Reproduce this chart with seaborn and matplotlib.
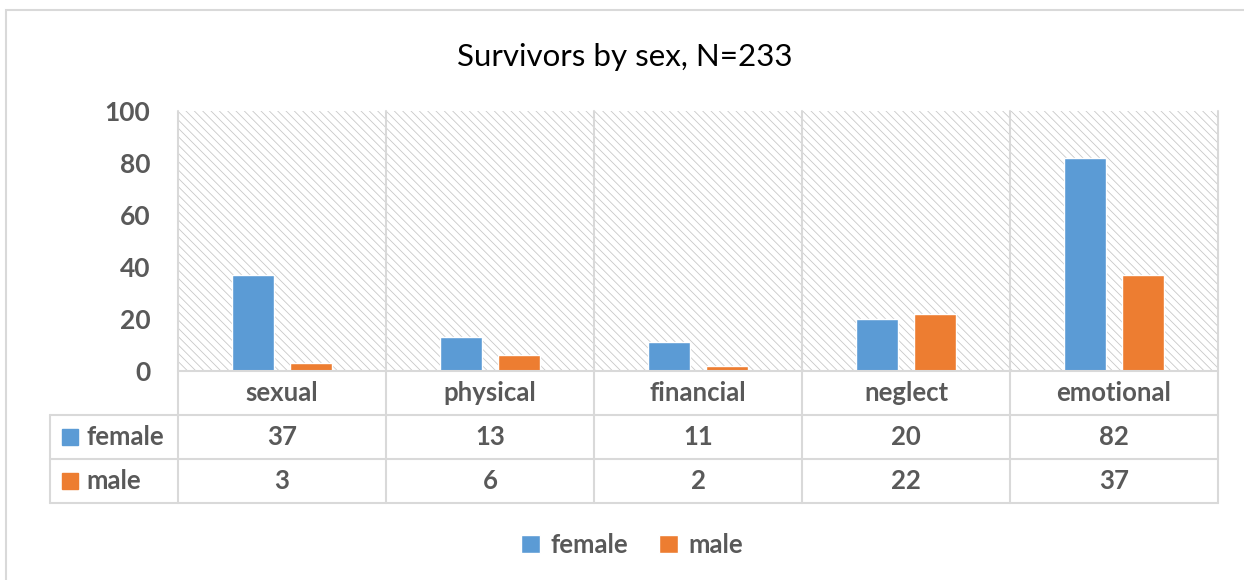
import pandas as pd
import matplotlib
matplotlib.use("Agg")
import matplotlib.pyplot as plt
import seaborn as sns
from matplotlib.patches import Rectangle, Patch
from matplotlib.transforms import blended_transform_factory

# ─────────────────────────────────────────────
# DATA
# ─────────────────────────────────────────────
categories = ["sexual", "physical", "financial", "neglect", "emotional"]
female = [37, 13, 11, 20, 82]
male = [3, 6, 2, 22, 37]
series = ["female", "male"]
yticks = [0, 20, 40, 60, 80, 100]
title = "Survivors by sex, N=233"

# ─────────────────────────────────────────────
# STYLE
# ─────────────────────────────────────────────
sns.set_style("white")
plt.rcParams["font.family"] = ["Lato", "DejaVu Sans"]
plt.rcParams["hatch.linewidth"] = 0.6

BLUE = "#5B9BD5"
ORANGE = "#ED7D31"
TEXT = "#595959"
GRID = "#D9D9D9"
FS = 18.5

W, H = 1244, 580

# ─────────────────────────────────────────────
# FIGURE
# ─────────────────────────────────────────────
fig = plt.figure(figsize=(W / 100, H / 100), dpi=100)
ax = fig.add_axes([178 / W, (H - 371) / H, 1040 / W, 260 / H])

df = pd.DataFrame({
    "category": categories * 2,
    "sex": [series[0]] * len(female) + [series[1]] * len(male),
    "count": female + male,
})

sns.barplot(data=df, x="category", y="count", hue="sex",
            palette=[BLUE, ORANGE], width=0.56, gap=0.286,
            saturation=1, legend=False, ax=ax, zorder=2)

# hatched plot background
ax.add_patch(Rectangle((0, 0), 1, 1, transform=ax.transAxes,
                       facecolor="white", edgecolor="#C8C8C8",
                       hatch="\\\\\\\\", lw=0, zorder=0))

ax.set_xlim(-0.5, len(categories) - 0.5)
ax.set_ylim(0, 100)
ax.set_yticks(yticks)
ax.set_xticks([])
ax.set_xlabel("")
ax.set_ylabel("")
ax.tick_params(axis="y", length=0, pad=20, labelsize=FS + 0.5, labelcolor=TEXT)
for lbl in ax.get_yticklabels():
    lbl.set_fontweight("bold")
for s in ax.spines.values():
    s.set_visible(False)

# ─────────────────────────────────────────────
# DATA TABLE
# ─────────────────────────────────────────────
row_h = 44 / 260
left = (50 - 178) / 1040
bt = blended_transform_factory(ax.transData, ax.transAxes)
line_kw = dict(color=GRID, lw=1.5, clip_on=False, zorder=3)

# vertical category boundaries (plot + table)
for i in range(len(categories) + 1):
    ax.plot([i - 0.5, i - 0.5], [1, -3 * row_h], transform=bt, **line_kw)
# axis line and row lines
ax.plot([0, 1], [0, 0], transform=ax.transAxes, **line_kw)
for r in (1, 2, 3):
    ax.plot([left, 1], [-r * row_h, -r * row_h], transform=ax.transAxes, **line_kw)
ax.plot([left, left], [-row_h, -3 * row_h], transform=ax.transAxes, **line_kw)

txt_kw = dict(ha="center", va="center", fontsize=FS, fontweight="bold",
              color=TEXT, transform=bt, clip_on=False)
for i, cat in enumerate(categories):
    ax.text(i, -0.5 * row_h, cat, **txt_kw)
    ax.text(i, -1.5 * row_h, str(female[i]), **txt_kw)
    ax.text(i, -2.5 * row_h, str(male[i]), **txt_kw)

for r, (name, col) in enumerate(zip(series, [BLUE, ORANGE])):
    y = -(r + 1.5) * row_h
    ax.plot([(70 - 178) / 1040], [y], marker="s", ms=12, color=col,
            transform=ax.transAxes, clip_on=False)
    ax.text((86 - 178) / 1040, y, name, ha="left", va="center", fontsize=FS,
            fontweight="bold", color=TEXT, transform=ax.transAxes)

# ─────────────────────────────────────────────
# TITLE, LEGEND, FRAME
# ─────────────────────────────────────────────
fig.text(625 / W, 1 - 57 / H, title, ha="center", va="center",
         fontsize=22.5, color="black")

handles = [Patch(facecolor=BLUE, label=series[0]),
           Patch(facecolor=ORANGE, label=series[1])]
leg = fig.legend(handles=handles, loc="center", ncol=2, frameon=False,
                 bbox_to_anchor=(632 / W, 1 - 545 / H), fontsize=FS,
                 handlelength=0.75, handleheight=0.75, handletextpad=0.4,
                 columnspacing=1.2)
for t in leg.get_texts():
    t.set_color(TEXT)
    t.set_fontweight("bold")

fig.patches.append(Rectangle((6 / W, -0.1), 1.2, 1 - 10 / H + 0.1,
                             transform=fig.transFigure, fill=False,
                             edgecolor=GRID, lw=1.5))

fig.savefig("out.png", dpi=100, facecolor="white")
